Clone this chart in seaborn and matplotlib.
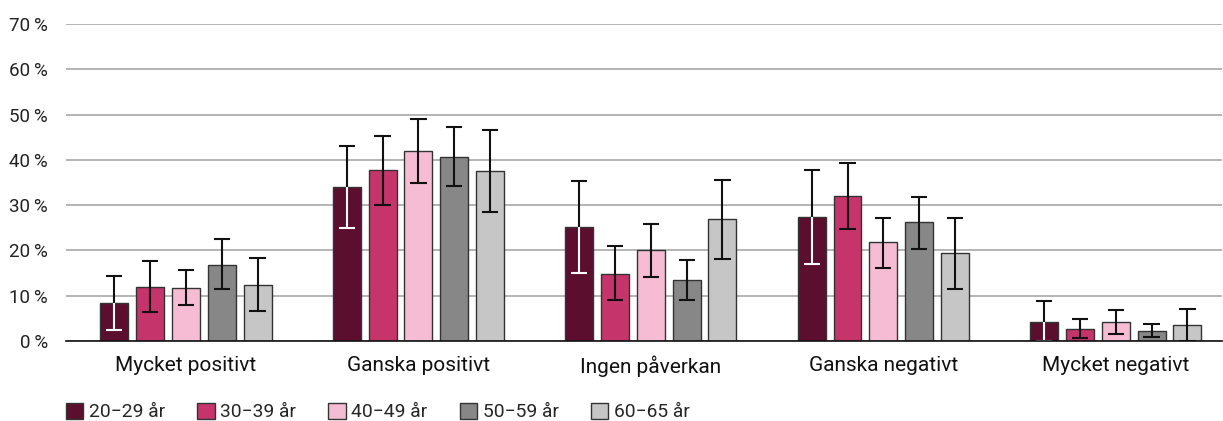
import numpy as np
import pandas as pd
import matplotlib
matplotlib.use('Agg')
import matplotlib.pyplot as plt
import seaborn as sns

# === DATA ===
categories = ['Mycket positivt', 'Ganska positivt', 'Ingen påverkan', 'Ganska negativt', 'Mycket negativt']
age_groups = ['20\u221229 år', '30\u221239 år', '40\u221249 år', '50\u221259 år', '60\u221265 år']

# share (%) per age group, one list per group, in category order
v_20_29 = [8.5, 34.1, 25.2, 27.4, 4.3]
v_30_39 = [12.0, 37.7, 14.9, 32.1, 2.6]
v_40_49 = [11.8, 41.9, 20.1, 21.8, 4.1]
v_50_59 = [16.8, 40.6, 13.5, 26.2, 2.1]
v_60_65 = [12.4, 37.5, 26.9, 19.4, 3.5]

# confidence interval lower / upper bounds
lo_20_29 = [2.4, 25.0, 15.1, 17.1, 0.0]
hi_20_29 = [14.4, 43.1, 35.3, 37.7, 8.8]
lo_30_39 = [6.3, 30.1, 9.1, 24.7, 0.7]
hi_30_39 = [17.7, 45.3, 21.0, 39.4, 4.9]
lo_40_49 = [7.9, 35.0, 14.2, 16.2, 1.5]
hi_40_49 = [15.7, 49.0, 25.8, 27.2, 6.8]
lo_50_59 = [11.5, 34.3, 9.1, 20.3, 0.9]
hi_50_59 = [22.5, 47.3, 17.9, 31.9, 3.7]
lo_60_65 = [6.6, 28.4, 18.1, 11.5, 0.0]
hi_60_65 = [18.3, 46.6, 35.5, 27.2, 7.1]

colors = ['#5c0e2f', '#c5346a', '#f5bcd3', '#878787', '#c6c6c6']

values = [v_20_29, v_30_39, v_40_49, v_50_59, v_60_65]
lows = [lo_20_29, lo_30_39, lo_40_49, lo_50_59, lo_60_65]
highs = [hi_20_29, hi_30_39, hi_40_49, hi_50_59, hi_60_65]

rows = []
for g, vals in zip(age_groups, values):
    for c, v in zip(categories, vals):
        rows.append({'Kategori': c, 'Ålder': g, 'Andel': v})
df = pd.DataFrame(rows)

# === PLOT ===
sns.set_style('white')
plt.rcParams['font.family'] = ['Roboto', 'DejaVu Sans']

fig = plt.figure(figsize=(12.23, 4.21), dpi=100)
ax = fig.add_axes([66 / 1223, 1 - 341 / 421, (1222 - 66) / 1223, (341 - 24) / 421])

sns.barplot(data=df, x='Kategori', y='Andel', hue='Ålder', order=categories,
            hue_order=age_groups, palette=colors, saturation=1, width=0.77, gap=0.22,
            edgecolor='#333333', linewidth=1, errorbar=None, legend=True, ax=ax,
            zorder=2)

# error bars, drawn on top of each bar
cap = 0.035
n_cat = len(categories)
for i, (vals, lo, hi) in enumerate(zip(values, lows, highs)):
    patches = ax.patches[i * n_cat:(i + 1) * n_cat]
    for p, v, l, h in zip(patches, vals, lo, hi):
        x = p.get_x() + p.get_width() / 2
        low_col = 'white' if i == 0 else '#111111'
        ax.vlines(x, l, v, color=low_col, lw=1.5, zorder=4)
        ax.vlines(x, v, h, color='#111111', lw=1.5, zorder=4)
        ax.hlines(l, x - cap, x + cap, color=low_col, lw=1.5, zorder=4)
        ax.hlines(h, x - cap, x + cap, color='#111111', lw=1.5, zorder=4)

ax.set_ylim(0, 70)
ax.set_xlim(-0.516, n_cat - 0.543)
ax.set_yticks(range(0, 71, 10))
ax.set_yticklabels([f'{t}\u2009%' for t in range(0, 71, 10)], fontsize=13.5, color='#222222')
ax.tick_params(axis='y', length=0, pad=13)
ax.tick_params(axis='x', length=0, pad=10.5, labelsize=15, labelcolor='#111111')
ax.yaxis.grid(True, color='#a8a8a8', lw=1.2)
ax.set_axisbelow(True)
ax.set_xlabel('')
ax.set_ylabel('')
for s in ['top', 'right', 'left']:
    ax.spines[s].set_visible(False)
ax.spines['bottom'].set_color('#111111')
ax.spines['bottom'].set_linewidth(1.2)
ax.spines['bottom'].set_zorder(5)

handles, labels = ax.get_legend_handles_labels()
ax.legend_.remove()
fig.legend(handles, labels, loc='center left', bbox_to_anchor=(66 / 1223, 1 - 412 / 421),
           ncol=5, frameon=False, fontsize=13.9, handlelength=0.9, handleheight=0.9,
           handletextpad=0.3, columnspacing=1.65, borderpad=0, borderaxespad=0)

fig.savefig('out.png', dpi=100)
